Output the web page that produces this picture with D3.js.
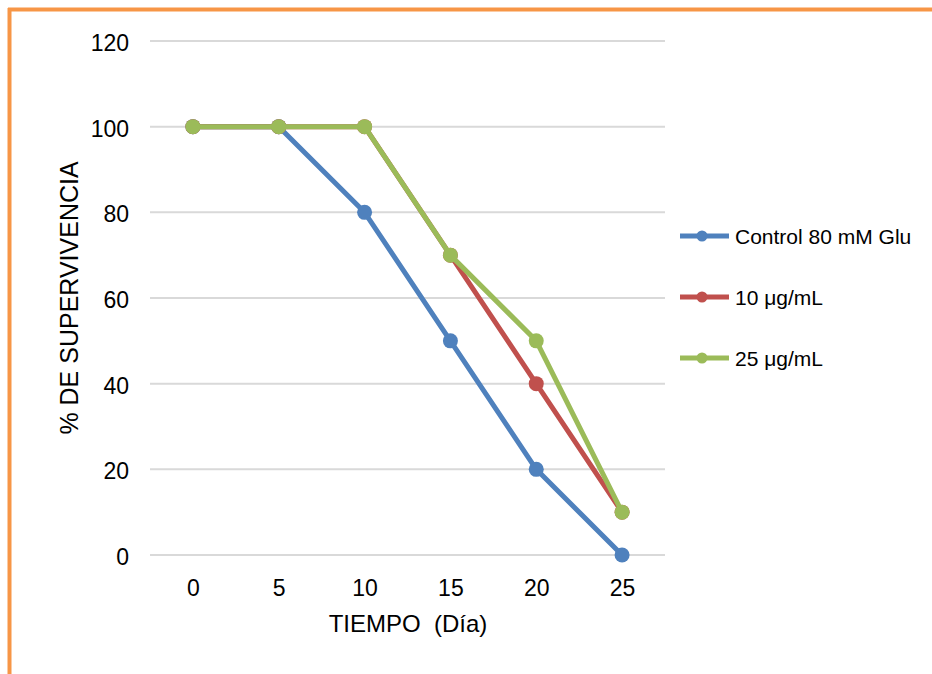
<!DOCTYPE html>
<html>
<head>
<meta charset="utf-8">
<script src="https://cdn.jsdelivr.net/npm/d3@7/dist/d3.min.js"></script>
<style>
  html, body { margin: 0; padding: 0; background: #fff; }
  svg { display: block; font-family: "Liberation Sans", Arial, sans-serif; }
</style>
</head>
<body>
<svg id="chart" width="932" height="674"></svg>
<script>
// Survival data per day
const days = ["0", "5", "10", "15", "20", "25"];
const control = [100, 100, 80, 50, 20, 0];
const dose10 = [100, 100, 100, 70, 40, 10];
const dose25 = [100, 100, 100, 70, 50, 10];
const yTicks = [0, 20, 40, 60, 80, 100, 120];

const seriesNames = ["Control 80 mM Glu", "10 μg/mL", "25 μg/mL"];
const seriesColors = ["#4F81BD", "#C0504D", "#9BBB59"];
const seriesValues = [control, dose10, dose25];

const svg = d3.select("#chart");

// Frame lines (top and left)
svg.append("line").attr("x1", 8).attr("x2", 932).attr("y1", 9.5).attr("y2", 9.5)
  .attr("stroke", "#F79646").attr("stroke-width", 4);
svg.append("line").attr("x1", 9.5).attr("x2", 9.5).attr("y1", 8).attr("y2", 674)
  .attr("stroke", "#F79646").attr("stroke-width", 4);

const plot = { left: 150, right: 665, top: 41, bottom: 555 };

const x = d3.scalePoint().domain(days).range([plot.left, plot.right]).padding(0.5);
const y = d3.scaleLinear().domain([0, 120]).range([plot.bottom, plot.top]);

// Horizontal gridlines
svg.append("g").selectAll("line").data(yTicks).join("line")
  .attr("x1", plot.left).attr("x2", plot.right)
  .attr("y1", d => y(d)).attr("y2", d => y(d))
  .attr("stroke", "#D9D9D9").attr("stroke-width", 2);

// Y axis labels
const yAxis = svg.append("g").attr("transform", `translate(${plot.left - 21},2)`)
  .call(d3.axisLeft(y).tickValues(yTicks).tickSize(0).tickPadding(0));
yAxis.select(".domain").remove();
yAxis.selectAll("text").attr("font-size", 23).attr("fill", "#000")
  .attr("font-family", "Liberation Sans, Arial, sans-serif");

// X axis labels
const xAxis = svg.append("g").attr("transform", `translate(0,${plot.bottom + 41})`)
  .call(d3.axisBottom(x).tickSize(0).tickPadding(0));
xAxis.select(".domain").remove();
xAxis.selectAll("text").attr("font-size", 23).attr("fill", "#000")
  .attr("dy", null).attr("dominant-baseline", null).attr("y", 0)
  .attr("font-family", "Liberation Sans, Arial, sans-serif");

// Axis titles
svg.append("text").attr("x", 408).attr("y", 632).attr("text-anchor", "middle")
  .attr("font-size", 24).attr("fill", "#000").attr("xml:space", "preserve")
  .text("TIEMPO  (Día)");
svg.append("text").attr("transform", "translate(78,298) rotate(-90)")
  .attr("text-anchor", "middle").attr("font-size", 25).attr("fill", "#000")
  .text("% DE SUPERVIVENCIA");

// Series lines and markers
const line = d3.line().x((d, i) => x(days[i])).y(d => y(d));
seriesValues.forEach((vals, s) => {
  const g = svg.append("g");
  g.append("path").datum(vals).attr("d", line)
    .attr("fill", "none").attr("stroke", seriesColors[s])
    .attr("stroke-width", 5).attr("stroke-linejoin", "round");
  g.selectAll("circle").data(vals).join("circle")
    .attr("cx", (d, i) => x(days[i])).attr("cy", d => y(d))
    .attr("r", 7.5).attr("fill", seriesColors[s]);
});

// Legend
const legend = svg.append("g");
seriesNames.forEach((name, i) => {
  const ly = 236 + i * 61;
  legend.append("line").attr("x1", 680).attr("x2", 729).attr("y1", ly).attr("y2", ly)
    .attr("stroke", seriesColors[i]).attr("stroke-width", 5);
  legend.append("circle").attr("cx", 702).attr("cy", ly).attr("r", 5.5)
    .attr("fill", seriesColors[i]);
  legend.append("text").attr("x", 735).attr("y", ly + 8)
    .attr("font-size", 21).attr("fill", "#000").text(name);
});
</script>
</body>
</html>
